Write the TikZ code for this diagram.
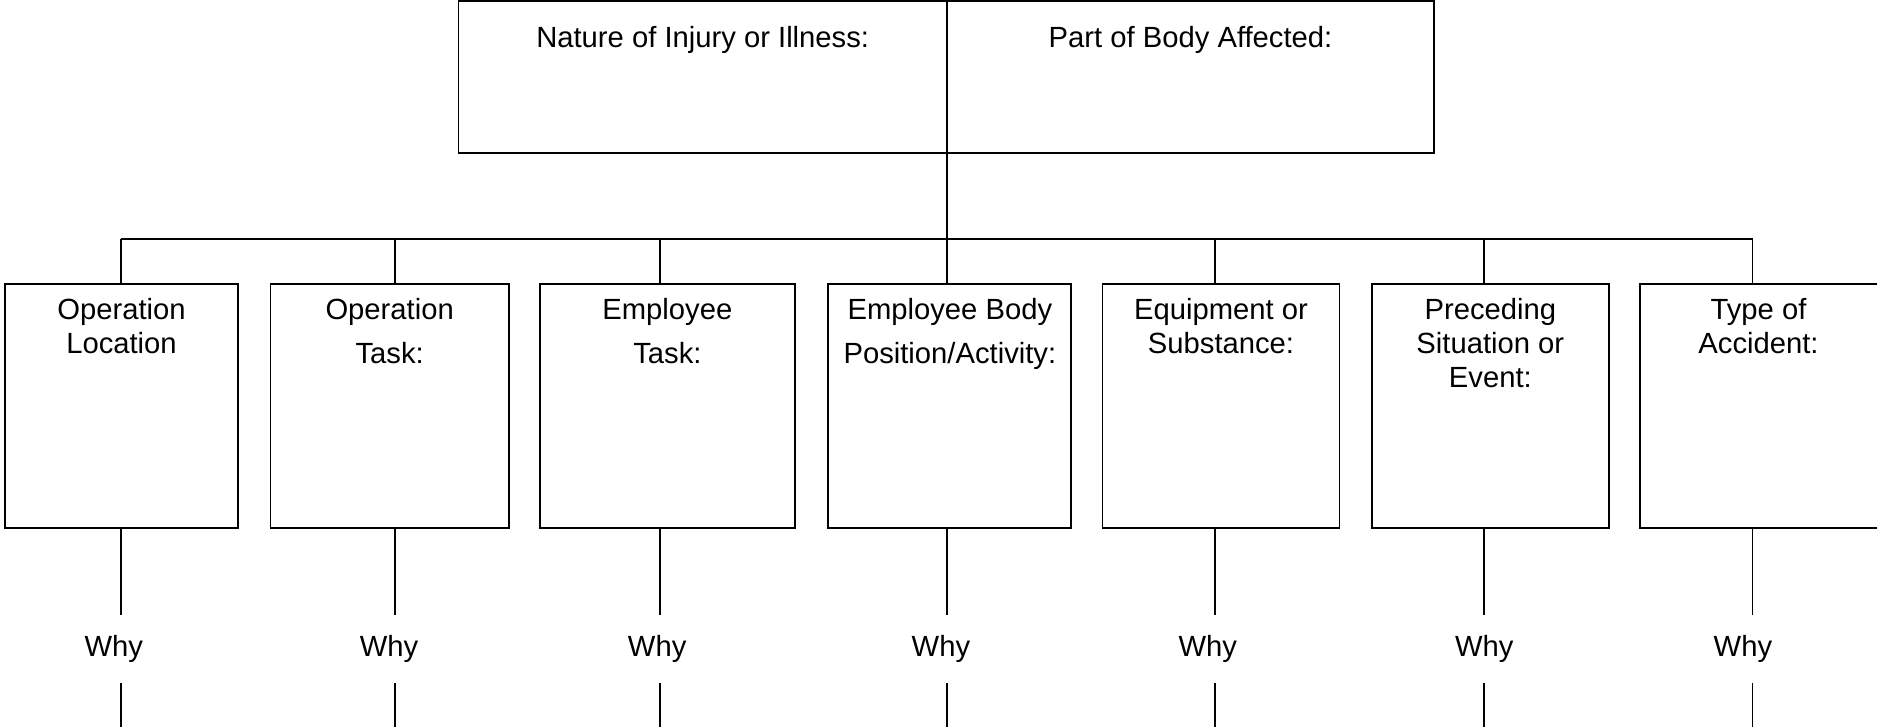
\documentclass[tikz,border=0pt]{standalone}
\usepackage{fontspec}
\setmainfont{Liberation Sans}
\usetikzlibrary{positioning}

\tikzset{
    box/.style = {draw, line width = 0.8pt, minimum height = 102pt, inner sep = 0pt},
    head/.style = {font = \fontsize{12.2}{14}\selectfont, align = center, inner sep = 0pt},
    why/.style = {font = \fontsize{12.2}{14}\selectfont, inner sep = 0pt, minimum height = 28pt},
    wire/.style = {line width = 0.8pt}
}

\begin{document}
\begin{tikzpicture}[x = 0.5pt, y = -0.5pt]
        \useasboundingbox (0, 0) rectangle (1568, 607);

        % top box
        \node[box, minimum width = 204pt, minimum height = 63.5pt] (nature) at (587, 64.5) {};
        \node[box, minimum width = 203.5pt, minimum height = 63.5pt] (part) at (994.5, 64.5) {};
        \node[head, below = 10.5pt of nature.north] (naturetxt) {Nature of Injury or Illness:};
        \node[head, below = 10.5pt of part.north] (parttxt) {Part of Body Affected:};

        % second row
        \node[box, minimum width = 97.5pt] (oploc) at (101.5, 339) {};
        \node[box, minimum width = 99.5pt] (optask) at (325.5, 339) {};
        \node[box, minimum width = 106.5pt] (emptask) at (557.5, 339) {};
        \node[box, minimum width = 101.5pt] (empbody) at (793.5, 339) {};
        \node[box, minimum width = 99pt] (equip) at (1020, 339) {};
        \node[box, minimum width = 99pt] (preced) at (1245, 339) {};
        \node[box, minimum width = 100.5pt] (acctype) at (1470.5, 339) {};

        \node[head, below = 6.5pt of oploc.north] (oploctxt) {Operation\\Location};
        \node[head, below = 6.5pt of optask.north] (optasktxt) {Operation\\[4pt]Task:};
        \node[head, below = 6.5pt of emptask.north] (emptasktxt) {Employee\\[4pt]Task:};
        \node[head, below = 6.5pt of empbody.north] (empbodytxt) {Employee Body\\[4pt]Position/Activity:};
        \node[head, below = 6.5pt of equip.north] (equiptxt) {Equipment or\\Substance:};
        \node[head, below = 6.5pt of preced.north] (precedtxt) {Preceding\\Situation or\\Event:};
        \node[head, below = 6.5pt of acctype.north, xshift = -0.75pt] (acctypetxt) {Type of\\Accident:};

        % bus
        \coordinate (b1) at (101, 200);
        \coordinate (b2) at (330, 200);
        \coordinate (b3) at (551, 200);
        \coordinate (b4) at (791, 200);
        \coordinate (b5) at (1015, 200);
        \coordinate (b6) at (1240, 200);
        \coordinate (b7) at (1464, 200);
        \coordinate (bottom) at (0, 612);

        \draw[wire] (b4 |- nature.south) -- (b4);
        \draw[wire] (b1) -- (b7);
        \draw[wire] (b1) -- (b1 |- oploc.north);
        \draw[wire] (b2) -- (b2 |- optask.north);
        \draw[wire] (b3) -- (b3 |- emptask.north);
        \draw[wire] (b4) -- (b4 |- empbody.north);
        \draw[wire] (b5) -- (b5 |- equip.north);
        \draw[wire] (b6) -- (b6 |- preced.north);
        \draw[wire] (b7) -- (b7 |- acctype.north);

        % why row
        \node[why] (why1) at (95, 542) {Why};
        \node[why] (why2) at (325, 542) {Why};
        \node[why] (why3) at (549, 542) {Why};
        \node[why] (why4) at (786, 542) {Why};
        \node[why] (why5) at (1009, 542) {Why};
        \node[why] (why6) at (1240, 542) {Why};
        \node[why] (why7) at (1456, 542) {Why};

        \draw[wire] (b1 |- oploc.south) -- (b1 |- why1.north) (b1 |- why1.south) -- (b1 |- bottom);
        \draw[wire] (b2 |- optask.south) -- (b2 |- why2.north) (b2 |- why2.south) -- (b2 |- bottom);
        \draw[wire] (b3 |- emptask.south) -- (b3 |- why3.north) (b3 |- why3.south) -- (b3 |- bottom);
        \draw[wire] (b4 |- empbody.south) -- (b4 |- why4.north) (b4 |- why4.south) -- (b4 |- bottom);
        \draw[wire] (b5 |- equip.south) -- (b5 |- why5.north) (b5 |- why5.south) -- (b5 |- bottom);
        \draw[wire] (b6 |- preced.south) -- (b6 |- why6.north) (b6 |- why6.south) -- (b6 |- bottom);
        \draw[wire] (b7 |- acctype.south) -- (b7 |- why7.north) (b7 |- why7.south) -- (b7 |- bottom);
    \end{tikzpicture}
\end{document}
